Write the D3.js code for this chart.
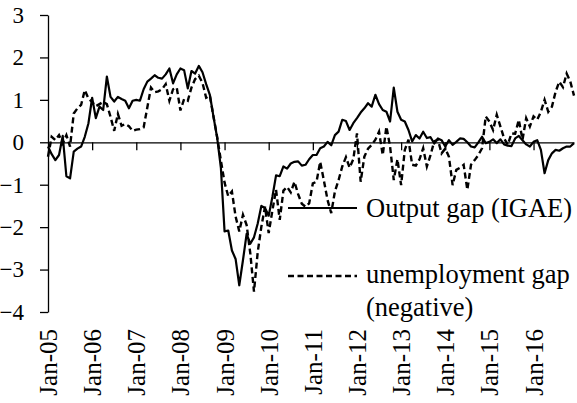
<!DOCTYPE html>
<html>
<head>
<meta charset="utf-8">
<script src="https://cdn.jsdelivr.net/npm/d3@7"></script>
<style>
  body { margin: 0; background: #fff; }
  svg { display: block; }
  svg text { font-family: "Liberation Serif", "Times New Roman", "DejaVu Serif", serif; fill: #000; }
  .axis path, .axis line { stroke: #000; stroke-width: 1.3; }
</style>
</head>
<body>
<svg id="chart"></svg>
<script>
'use strict';

const width = 577;
const height = 403;
const fontFamily = '"Liberation Serif", "Times New Roman", serif';

// year labels shown every 12 months, starting Jan-05
const yearLabels = ['Jan-05', 'Jan-06', 'Jan-07', 'Jan-08', 'Jan-09', 'Jan-10',
    'Jan-11', 'Jan-12', 'Jan-13', 'Jan-14', 'Jan-15', 'Jan-16'];
const yTicks = [-4, -3, -2, -1, 0, 1, 2, 3];

// monthly values, Jan-05 .. Dec-16
const outputGap = [
    -0.10, -0.28, -0.42, -0.30, 0.15, -0.80, -0.85, -0.22, -0.15, -0.10, 0.13, 0.45,
    1.05, 0.57, 0.84, 0.76, 1.55, 1.07, 0.96, 1.07, 1.02, 0.98, 0.80, 0.98,
    1.00, 0.98, 1.25, 1.43, 1.50, 1.58, 1.52, 1.50, 1.60, 1.74, 1.39, 1.60,
    1.74, 1.70, 1.27, 1.68, 1.62, 1.80, 1.65, 1.37, 1.12, 0.60, 0.10, -0.60,
    -2.10, -2.08, -2.55, -2.75, -3.37, -2.78, -2.16, -2.39, -2.24, -1.92, -1.50, -1.55,
    -1.73, -1.29, -0.78, -0.80, -0.57, -0.62, -0.50, -0.46, -0.45, -0.55, -0.53, -0.40,
    -0.30, -0.30, -0.14, -0.10, 0.01, -0.07, 0.17, 0.25, 0.53, 0.50, 0.29, 0.45,
    0.57, 0.70, 0.80, 0.92, 0.84, 1.12, 0.90, 0.76, 0.72, 0.49, 1.29, 0.72,
    0.53, 0.49, 0.29, 0.02, 0.17, 0.09, 0.25, 0.10, 0.12, -0.03, 0.09, 0.05,
    -0.10, 0.05, -0.06, 0.01, 0.09, 0.08, 0.00, -0.10, -0.12, 0.00, 0.13, -0.02,
    0.01, 0.07, -0.02, 0.07, -0.05, -0.08, -0.09, 0.09, 0.15, 0.05, -0.05, -0.10,
    0.01, 0.05, -0.18, -0.73, -0.42, -0.26, -0.18, -0.20, -0.14, -0.10, -0.10, -0.02
];

const unemploymentGap = [
    -0.34, 0.13, 0.05, 0.17, -0.03, 0.17, -0.10, 0.68, 0.80, 0.88, 1.23, 1.03,
    0.95, 0.85, 0.90, 0.95, 0.90, 0.60, 0.27, 0.67, 0.39, 0.43, 0.38, 0.27,
    0.30, 0.31, 0.35, 0.82, 1.29, 1.18, 1.20, 1.25, 1.37, 0.98, 1.25, 1.29,
    0.75, 1.02, 0.98, 1.29, 1.49, 1.57, 1.40, 1.05, 1.10, 0.60, 0.12, -0.43,
    -0.95, -1.27, -1.16, -1.75, -2.10, -1.71, -1.95, -2.62, -3.52, -2.60, -1.99, -1.52,
    -2.14, -1.61, -1.12, -1.83, -1.14, -1.05, -1.18, -0.93, -1.22, -1.45, -1.52, -1.44,
    -0.97, -0.93, -0.46, -0.90, -1.36, -1.67, -1.16, -0.89, -0.57, -0.35, -0.60, -0.40,
    0.21, -0.93, -0.34, -0.15, -0.06, 0.06, 0.25, -0.30, 0.37, -0.10, -0.89, -0.40,
    -1.01, -0.18, 0.06, -0.53, -0.55, -0.40, -0.14, -0.57, -0.30, 0.02, 0.06, -0.26,
    -0.15, -0.34, -1.01, -0.65, -0.60, -0.53, -1.12, -0.53, -0.42, -0.30, -0.14, 0.61,
    0.49, 0.29, 0.65, 0.37, 0.09, -0.06, 0.21, 0.20, 0.53, 0.06, 0.57, 0.37,
    0.61, 0.53, 0.72, 1.00, 0.72, 0.84, 1.19, 1.43, 1.30, 1.62, 1.43, 1.10
];

const margin = {left: 48, right: 3, top: 15, bottom: 91};

const svg = d3.select('#chart')
    .attr('width', width)
    .attr('height', height);

const xScale = d3.scaleLinear()
    .domain([0, outputGap.length - 1])
    .range([margin.left, width - margin.right]);

const yScale = d3.scaleLinear()
    .domain([-4, 3])
    .range([height - margin.bottom, margin.top]);

// y axis
svg.append('g')
    .attr('class', 'axis')
    .attr('transform', `translate(${margin.left},0)`)
    .call(d3.axisLeft(yScale)
        .tickValues(yTicks)
        .tickFormat(d3.format('d'))
        .tickSize(8)
        .tickSizeOuter(0)
        .tickPadding(16))
    .attr('font-family', fontFamily)
    .attr('font-size', 23)
    .call(g => g.selectAll('text').attr('font-family', fontFamily).attr('font-size', 23));

// x axis on the zero line, ticks only
const monthTicks = yearLabels.map((d, i) => i * 12).filter(d => d > 0);
svg.append('g')
    .attr('class', 'axis')
    .attr('transform', `translate(0,${yScale(0)})`)
    .call(d3.axisBottom(xScale).tickValues(monthTicks).tickSize(8).tickSizeOuter(0).tickFormat(''));

// rotated year labels at the bottom
svg.append('g')
    .attr('font-family', fontFamily)
    .attr('font-size', 25)
    .selectAll('text')
    .data(yearLabels)
    .join('text')
    .attr('transform', (d, i) => `translate(${xScale(i * 12) + 9},${329}) rotate(-90)`)
    .attr('text-anchor', 'end')
    .text(d => d);

const line = d3.line()
    .x((d, i) => xScale(i))
    .y(d => yScale(d));

svg.append('path')
    .datum(unemploymentGap)
    .attr('fill', 'none')
    .attr('stroke', '#000')
    .attr('stroke-width', 2.4)
    .attr('stroke-dasharray', '6,3.5')
    .attr('d', line);

svg.append('path')
    .datum(outputGap)
    .attr('fill', 'none')
    .attr('stroke', '#000')
    .attr('stroke-width', 2.2)
    .attr('stroke-linejoin', 'round')
    .attr('d', line);

// legend
const legend = svg.append('g')
    .attr('font-family', fontFamily)
    .attr('font-size', 26.5);

legend.append('line')
    .attr('x1', 288).attr('x2', 357).attr('y1', 208).attr('y2', 208)
    .attr('stroke', '#000').attr('stroke-width', 2.2);
legend.append('text')
    .attr('x', 366).attr('y', 217)
    .text('Output gap (IGAE)');

legend.append('line')
    .attr('x1', 288).attr('x2', 357).attr('y1', 276).attr('y2', 276)
    .attr('stroke', '#000').attr('stroke-width', 2.4)
    .attr('stroke-dasharray', '6,3.5');
legend.append('text')
    .attr('x', 366).attr('y', 283)
    .text('unemployment gap');
legend.append('text')
    .attr('x', 366).attr('y', 316)
    .text('(negative)');
</script>
</body>
</html>
